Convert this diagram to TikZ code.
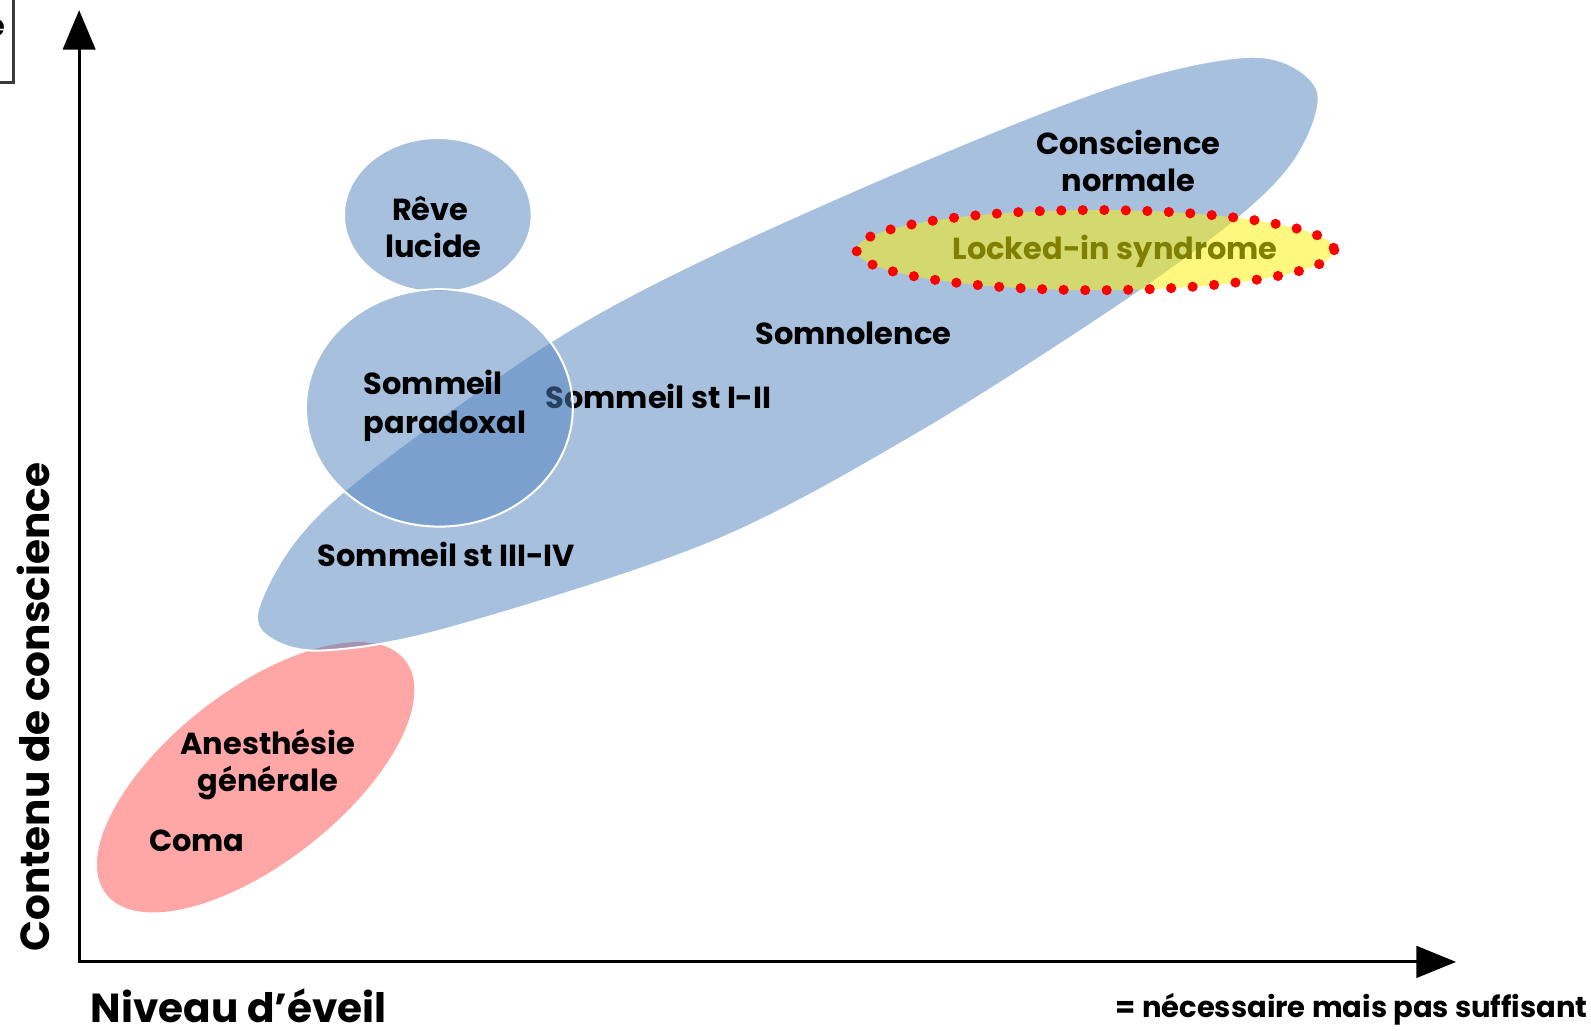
\documentclass[tikz,border=0pt]{standalone}
\usepackage{fontspec}
\setmainfont{Poppins}
\usetikzlibrary{arrows.meta}
\definecolor{ofblue}{HTML}{4F81BD}
\definecolor{pinkfill}{HTML}{FFA6A6}
\definecolor{olive}{RGB}{128,128,0}
\definecolor{boxgray}{HTML}{3A3A3A}
\tikzset{
  blob/.style={fill=ofblue, fill opacity=0.5, draw=white, draw opacity=1, line width=1pt},
  lbl/.style={font=\bfseries\fontsize{15}{18}\selectfont, inner sep=0pt, anchor=base},
  axislbl/.style={font=\bfseries\fontsize{20}{24}\selectfont, inner sep=0pt},
  axisline/.style={line width=1.5pt, {Triangle[length=19.5pt,width=16pt]}-{Triangle[length=19.5pt,width=15.5pt]}},
  reddots/.style={draw=red, line width=5pt, line cap=round, dash pattern=on 0pt off 10.6pt}
}
\begin{document}
\begin{tikzpicture}[x=0.5pt,y=-0.5pt]
\useasboundingbox (0,0) rectangle (1568,1016);
% partial box at top-left
\draw[boxgray, line width=1.3pt] (-60,-40) rectangle (13,81);
\node[font=\bfseries\fontsize{15}{18}\selectfont, inner sep=0pt, anchor=east] (boxtxt) at (6,28) {e};
% pink region
\fill[pinkfill, rotate around={38:(252,766)}] (252,766) ellipse [x radius=187, y radius=85];
% big blue region
\path[blob] plot[smooth cycle, tension=0.55] coordinates {
 (254,602) (290,534) (360,467) (542,337) (700,252) (930,150) (1113,80)
 (1240,56) (1298,88) (1280,152) (1222,214) (1100,303) (900,430) (700,535)
 (443,619) (320,641) (268,630)};
% text under the paradoxal circle
\node[lbl] (st12) at (649,403) {Sommeil st I-II};
% Reve lucide
\path[blob] (431.5,212) ellipse [x radius=92.5, y radius=76];
% Sommeil paradoxal
\path[blob] (433,402) ellipse [x radius=131.5, y radius=117];
% Locked-in
\fill[yellow, fill opacity=0.5] (1079.5,246.5) ellipse [x radius=235.5, y radius=39.5];
\draw[reddots] (1079.5,246.5) ellipse [x radius=235.5, y radius=39.5];
% axes
\coordinate (origin) at (78,948);
\coordinate (ytip) at (78,10);
\coordinate (xtip) at (1435,948);
\draw[axisline] (ytip) -- (origin) -- (xtip);
% labels
\node[lbl] (reveA) at (424,217) {Rêve};
\node[lbl] (reveB) at (427,254) {lucide};
\node[lbl, anchor=base west] (parA) at (358,389) {Sommeil};
\node[lbl, anchor=base west] (parB) at (358,427) {paradoxal};
\node[lbl] (consA) at (1112,152) {Conscience};
\node[lbl] (consB) at (1112,189) {normale};
\node[lbl, text=olive] (lis) at (1099,256) {Locked-in syndrome};
\node[lbl] (somn) at (841,340) {Somnolence};
\node[lbl] (st34) at (440,558) {Sommeil st III-IV};
\node[lbl] (anesA) at (264,744) {Anesthésie};
\node[lbl] (anesB) at (264,780) {générale};
\node[lbl] (coma) at (194,839) {Coma};
\node[axislbl, anchor=base west] (xlab) at (89,1008) {Niveau d’éveil};
\node[axislbl, anchor=base, rotate=90] (ylab) at (49,697) {Contenu de conscience};
\node[font=\bfseries\fontsize{14.3}{17}\selectfont, inner sep=0pt, anchor=base east] (note) at (1565,1003) {= nécessaire mais pas suffisant};
\end{tikzpicture}
\end{document}
